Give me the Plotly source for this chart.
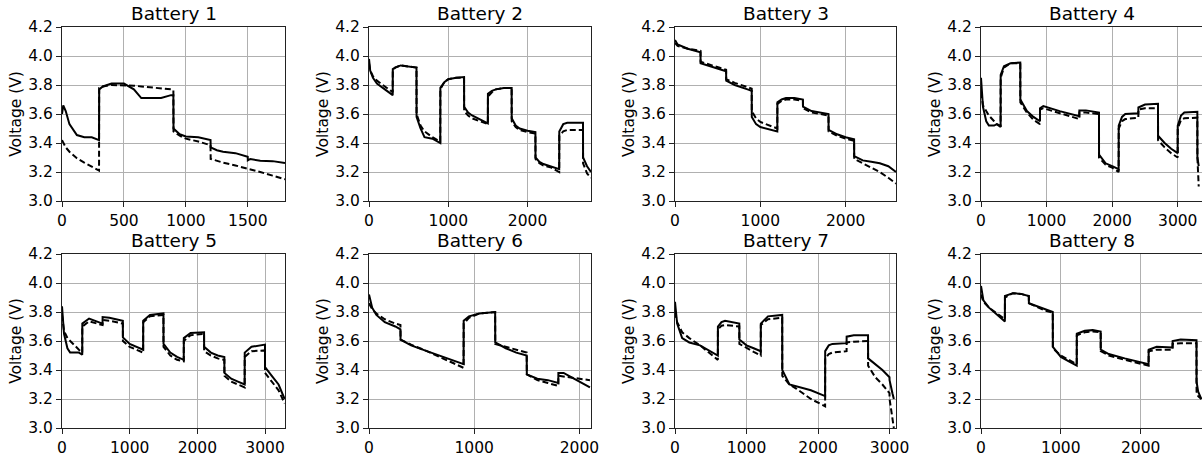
import plotly.graph_objects as go

# ---------------- data (time in s, voltage in V) ----------------
b1_t = [0, 10, 30, 60, 120, 180, 240, 299, 300, 330, 400, 500, 580, 640, 700, 800, 880, 899, 900, 950, 1000, 1100, 1199, 1200, 1250, 1300, 1400, 1499, 1500, 1520, 1600, 1700, 1800]
b1_meas = [3.60, 3.66, 3.62, 3.53, 3.455, 3.44, 3.44, 3.42, 3.77, 3.79, 3.81, 3.81, 3.77, 3.71, 3.71, 3.71, 3.73, 3.73, 3.50, 3.46, 3.445, 3.44, 3.42, 3.37, 3.35, 3.34, 3.33, 3.305, 3.28, 3.29, 3.277, 3.275, 3.262]
b1_model = [3.42, 3.40, 3.37, 3.34, 3.295, 3.265, 3.24, 3.21, 3.78, 3.79, 3.80, 3.80, 3.795, 3.79, 3.785, 3.78, 3.77, 3.765, 3.48, 3.45, 3.43, 3.41, 3.385, 3.29, 3.275, 3.265, 3.245, 3.225, 3.225, 3.22, 3.20, 3.175, 3.15]

b2_t = [0, 15, 50, 100, 200, 299, 300, 330, 400, 500, 599, 600, 650, 700, 800, 899, 900, 950, 1000, 1100, 1199, 1200, 1250, 1300, 1400, 1499, 1500, 1550, 1600, 1700, 1799, 1800, 1850, 1900, 2000, 2099, 2100, 2150, 2200, 2300, 2399, 2400, 2450, 2500, 2600, 2699, 2700, 2750, 2800]
b2_meas = [3.98, 3.90, 3.85, 3.81, 3.77, 3.73, 3.91, 3.92, 3.935, 3.93, 3.92, 3.58, 3.50, 3.44, 3.43, 3.40, 3.78, 3.82, 3.84, 3.85, 3.855, 3.65, 3.61, 3.59, 3.56, 3.535, 3.74, 3.76, 3.77, 3.78, 3.78, 3.57, 3.52, 3.50, 3.485, 3.475, 3.30, 3.27, 3.255, 3.24, 3.22, 3.48, 3.53, 3.54, 3.54, 3.54, 3.30, 3.24, 3.20]
b2_model = [3.95, 3.90, 3.86, 3.83, 3.79, 3.75, 3.90, 3.92, 3.935, 3.93, 3.92, 3.60, 3.52, 3.48, 3.44, 3.41, 3.77, 3.82, 3.84, 3.85, 3.85, 3.62, 3.59, 3.57, 3.55, 3.53, 3.72, 3.75, 3.77, 3.78, 3.78, 3.55, 3.51, 3.49, 3.475, 3.465, 3.29, 3.26, 3.245, 3.23, 3.20, 3.45, 3.48, 3.49, 3.49, 3.49, 3.26, 3.19, 3.16]

b3_t = [0, 30, 150, 299, 300, 400, 599, 600, 700, 850, 899, 900, 950, 1000, 1100, 1199, 1200, 1250, 1300, 1400, 1499, 1500, 1600, 1799, 1800, 1900, 2000, 2099, 2100, 2200, 2300, 2400, 2500, 2590]
b3_meas = [4.11, 4.08, 4.05, 4.025, 3.95, 3.93, 3.895, 3.83, 3.80, 3.77, 3.76, 3.58, 3.53, 3.51, 3.495, 3.48, 3.68, 3.70, 3.71, 3.71, 3.70, 3.65, 3.62, 3.60, 3.49, 3.46, 3.44, 3.425, 3.31, 3.28, 3.27, 3.26, 3.24, 3.20]
b3_model = [4.09, 4.07, 4.05, 4.035, 3.96, 3.94, 3.905, 3.84, 3.815, 3.785, 3.775, 3.62, 3.57, 3.545, 3.52, 3.50, 3.67, 3.69, 3.70, 3.70, 3.69, 3.64, 3.61, 3.59, 3.48, 3.45, 3.43, 3.415, 3.29, 3.26, 3.23, 3.20, 3.16, 3.12]

b4_t = [0, 30, 80, 120, 200, 240, 299, 300, 350, 450, 599, 600, 700, 800, 899, 900, 950, 1200, 1499, 1500, 1600, 1799, 1800, 1900, 2000, 2099, 2100, 2150, 2200, 2399, 2400, 2500, 2699, 2700, 2800, 2900, 2999, 3000, 3050, 3100, 3299, 3300, 3320]
b4_meas = [3.85, 3.65, 3.55, 3.52, 3.52, 3.53, 3.51, 3.87, 3.93, 3.95, 3.955, 3.70, 3.62, 3.58, 3.55, 3.64, 3.655, 3.62, 3.585, 3.625, 3.625, 3.61, 3.32, 3.26, 3.24, 3.22, 3.52, 3.58, 3.60, 3.605, 3.645, 3.665, 3.67, 3.45, 3.40, 3.36, 3.33, 3.52, 3.59, 3.61, 3.615, 3.30, 3.24]
b4_model = [3.75, 3.66, 3.62, 3.59, 3.55, 3.53, 3.52, 3.85, 3.92, 3.95, 3.95, 3.68, 3.61, 3.56, 3.53, 3.63, 3.64, 3.605, 3.565, 3.61, 3.61, 3.60, 3.30, 3.25, 3.23, 3.20, 3.50, 3.55, 3.565, 3.575, 3.63, 3.64, 3.64, 3.42, 3.37, 3.33, 3.30, 3.50, 3.56, 3.57, 3.575, 3.30, 3.10]

b5_t = [0, 30, 80, 120, 200, 250, 299, 300, 400, 500, 599, 600, 700, 899, 900, 1000, 1100, 1199, 1200, 1300, 1499, 1500, 1600, 1700, 1799, 1800, 1900, 2099, 2100, 2200, 2300, 2399, 2400, 2500, 2600, 2699, 2700, 2800, 2999, 3000, 3100, 3200, 3290]
b5_meas = [3.84, 3.65, 3.55, 3.52, 3.52, 3.52, 3.505, 3.72, 3.755, 3.74, 3.72, 3.765, 3.76, 3.74, 3.625, 3.58, 3.56, 3.54, 3.74, 3.78, 3.79, 3.58, 3.52, 3.49, 3.47, 3.62, 3.655, 3.66, 3.56, 3.52, 3.50, 3.49, 3.38, 3.34, 3.32, 3.30, 3.52, 3.56, 3.575, 3.42, 3.36, 3.30, 3.20]
b5_model = [3.78, 3.67, 3.62, 3.60, 3.56, 3.54, 3.52, 3.70, 3.735, 3.725, 3.71, 3.745, 3.74, 3.72, 3.60, 3.56, 3.54, 3.52, 3.73, 3.77, 3.78, 3.56, 3.50, 3.47, 3.46, 3.60, 3.64, 3.65, 3.53, 3.50, 3.48, 3.47, 3.36, 3.32, 3.30, 3.28, 3.49, 3.53, 3.535, 3.38, 3.32, 3.26, 3.17]

b6_t = [0, 30, 70, 150, 250, 299, 300, 400, 550, 700, 850, 899, 900, 950, 1050, 1199, 1200, 1300, 1400, 1499, 1500, 1600, 1700, 1799, 1800, 1850, 1900, 1950, 2000, 2100]
b6_meas = [3.92, 3.83, 3.78, 3.73, 3.70, 3.68, 3.61, 3.57, 3.53, 3.49, 3.45, 3.44, 3.74, 3.77, 3.79, 3.80, 3.59, 3.55, 3.52, 3.50, 3.37, 3.34, 3.33, 3.31, 3.38, 3.38, 3.36, 3.34, 3.32, 3.28]
b6_model = [3.86, 3.82, 3.79, 3.75, 3.72, 3.71, 3.61, 3.575, 3.53, 3.48, 3.43, 3.415, 3.72, 3.76, 3.79, 3.80, 3.58, 3.56, 3.54, 3.52, 3.37, 3.33, 3.31, 3.29, 3.36, 3.355, 3.35, 3.345, 3.34, 3.33]

b7_t = [0, 30, 100, 200, 350, 500, 599, 600, 650, 700, 899, 900, 1000, 1100, 1199, 1200, 1300, 1499, 1500, 1600, 1700, 1900, 2099, 2100, 2150, 2200, 2399, 2400, 2500, 2699, 2700, 2800, 2900, 2999, 3000, 3040, 3060]
b7_meas = [3.87, 3.72, 3.62, 3.59, 3.57, 3.53, 3.50, 3.70, 3.73, 3.74, 3.72, 3.61, 3.57, 3.55, 3.53, 3.72, 3.77, 3.78, 3.40, 3.30, 3.285, 3.26, 3.22, 3.53, 3.57, 3.58, 3.585, 3.63, 3.64, 3.64, 3.48, 3.44, 3.40, 3.35, 3.33, 3.24, 3.20]
b7_model = [3.80, 3.73, 3.66, 3.62, 3.57, 3.51, 3.47, 3.68, 3.705, 3.71, 3.70, 3.58, 3.55, 3.525, 3.50, 3.71, 3.75, 3.76, 3.36, 3.30, 3.27, 3.20, 3.15, 3.48, 3.51, 3.52, 3.53, 3.59, 3.595, 3.60, 3.43, 3.35, 3.30, 3.24, 3.20, 3.05, 3.00]

b8_t = [0, 30, 100, 200, 299, 300, 400, 500, 599, 600, 700, 800, 899, 900, 1000, 1100, 1199, 1200, 1300, 1400, 1499, 1500, 1600, 1800, 2000, 2099, 2100, 2200, 2399, 2400, 2500, 2699, 2700, 2720, 2760]
b8_meas = [3.98, 3.88, 3.83, 3.78, 3.735, 3.91, 3.93, 3.925, 3.91, 3.86, 3.84, 3.815, 3.80, 3.56, 3.49, 3.46, 3.43, 3.65, 3.67, 3.675, 3.665, 3.54, 3.51, 3.48, 3.455, 3.44, 3.54, 3.56, 3.555, 3.60, 3.61, 3.605, 3.32, 3.25, 3.20]
b8_model = [3.92, 3.87, 3.83, 3.79, 3.75, 3.90, 3.93, 3.925, 3.91, 3.86, 3.835, 3.81, 3.795, 3.55, 3.50, 3.47, 3.44, 3.64, 3.66, 3.665, 3.66, 3.53, 3.50, 3.47, 3.44, 3.43, 3.53, 3.54, 3.54, 3.58, 3.585, 3.585, 3.25, 3.22, 3.20]

titles = ["Battery 1", "Battery 2", "Battery 3", "Battery 4",
          "Battery 5", "Battery 6", "Battery 7", "Battery 8"]
x_max = [1800, 2800, 2590, 3370, 3295, 2110, 3090, 2768]
x_dtick = [500, 1000, 1000, 1000, 1000, 1000, 1000, 1000]
y_ticks = [3.0, 3.2, 3.4, 3.6, 3.8, 4.0, 4.2]
y_label = "Voltage (V)"

series = [(b1_t, b1_meas, b1_model), (b2_t, b2_meas, b2_model),
          (b3_t, b3_meas, b3_model), (b4_t, b4_meas, b4_model),
          (b5_t, b5_meas, b5_model), (b6_t, b6_meas, b6_model),
          (b7_t, b7_meas, b7_model), (b8_t, b8_meas, b8_model)]

# ---------------- layout geometry ----------------
W, H = 1202, 457
col_px = [(62, 285), (369, 591), (675, 896), (981, 1202)]
row_px = [(27, 201), (254, 428)]

FONT = "DejaVu Sans"
fig = go.Figure()
annotations = []
for i, (t, vm, vp) in enumerate(series):
    r, c = divmod(i, 4)
    n = i + 1
    xa = "x" if n == 1 else f"x{n}"
    ya = "y" if n == 1 else f"y{n}"
    fig.add_trace(go.Scatter(x=t, y=vm, mode="lines", xaxis=xa, yaxis=ya,
                             line=dict(color="black", width=2), showlegend=False))
    fig.add_trace(go.Scatter(x=t, y=vp, mode="lines", xaxis=xa, yaxis=ya,
                             line=dict(color="black", width=2, dash="6px,3px"),
                             showlegend=False))
    x0, x1 = col_px[c]
    y0, y1 = row_px[r]
    xdom = [x0 / W, min(x1 / W, 1.0)]
    ydom = [1 - y1 / H, 1 - y0 / H]
    common = dict(showline=True, mirror=True, linecolor="#222", linewidth=1.2,
                  showgrid=True, gridcolor="#b0b0b0", gridwidth=1,
                  ticks="outside", ticklen=5, tickcolor="#222", tickwidth=1,
                  tickfont=dict(family=FONT, size=15.5, color="black"),
                  zeroline=False, automargin=False)
    fig.layout[f"xaxis{'' if n == 1 else n}"] = dict(
        domain=xdom, range=[0, x_max[i]], tick0=0, dtick=x_dtick[i],
        anchor=ya, **common)
    fig.layout[f"yaxis{'' if n == 1 else n}"] = dict(
        domain=ydom, range=[3.0, 4.2], tickvals=y_ticks,
        ticktext=[f"{v:.1f}" for v in y_ticks], anchor=xa,
        title=dict(text=y_label, font=dict(family=FONT, size=15.5, color="black"),
                   standoff=2),
        **common)
    annotations.append(dict(text=titles[i], xref="paper", yref="paper",
                            x=(x0 + x1) / 2 / W, y=ydom[1], xanchor="center",
                            yanchor="bottom", yshift=1, showarrow=False,
                            font=dict(family=FONT, size=18.5, color="black")))

fig.update_layout(width=W, height=H, margin=dict(l=0, r=0, t=0, b=0),
                  paper_bgcolor="white", plot_bgcolor="white",
                  annotations=annotations, showlegend=False)
fig.write_html("out.html")
